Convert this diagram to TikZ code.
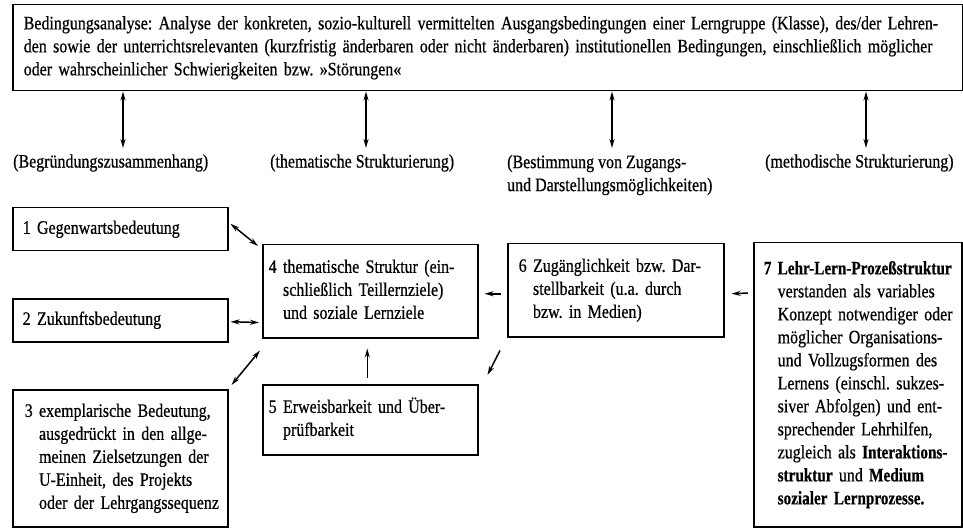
\documentclass[tikz,border=0pt]{standalone}
\usepackage{fontspec}
\setmainfont{Liberation Serif}[FakeStretch=0.84,FakeBold=0.6,BoldFeatures={FakeStretch=0.8,FakeBold=0.6}]
\usetikzlibrary{arrows.meta}
\frenchspacing
\begin{document}
\begin{tikzpicture}[x=1pt,y=-1pt,
  every node/.style={font=\fontsize{19pt}{23pt}\selectfont},
  bx/.style={draw, line width=1.5pt, anchor=north west, align=left, inner ysep=0pt},
  lab/.style={anchor=west, align=left, inner sep=0pt},
  dbl/.style={line width=1.5pt, {Stealth[length=9pt,width=5pt]}-{Stealth[length=9pt,width=5pt]}},
  one/.style={line width=1.5pt, -{Stealth[length=9pt,width=5pt]}}]
\useasboundingbox (0,0) rectangle (963,529);
% top box
\node[bx, minimum height=86pt, text width=928pt, inner xsep=11pt] (top) at (12,4)
 {\begin{tabular}{@{}l@{}}
 Bedingungsanalyse: Analyse der konkreten, sozio-kulturell vermittelten Ausgangsbedingungen einer Lerngruppe (Klasse), des/der Lehren-\\
 den sowie der unterrichtsrelevanten (kurzfristig änderbaren oder nicht änderbaren) institutionellen Bedingungen, einschließlich möglicher\\
 oder wahrscheinlicher Schwierigkeiten bzw. »Störungen«
 \end{tabular}};
% labels
\node[lab] (l1) at (13,163) {(Begründungszusammenhang)};
\node[lab] (l2) at (270,163) {(thematische Strukturierung)};
\node[lab] (l3) at (507,175) {\begin{tabular}{@{}l@{}}(Bestimmung von Zugangs-\\und Darstellungsmöglichkeiten)\end{tabular}};
\node[lab] (l4) at (765,163) {(methodische Strukturierung)};
\coordinate (e1) at (123,148);
\coordinate (e2) at (366,148);
\coordinate (e3) at (612,148);
\coordinate (e4) at (866,148);
\foreach \e in {e1,e2,e3,e4} \draw[dbl] (top.south -| \e) -- (\e);
% boxes
\node[bx, minimum height=43pt, text width=195pt, inner xsep=10pt] (b1) at (12,207) {1 Gegenwartsbedeutung};
\node[bx, minimum height=43pt, text width=195pt, inner xsep=10pt] (b2) at (12,298) {2 Zukunftsbedeutung};
\node[bx, minimum height=137pt, text width=191pt, inner xsep=12pt] (b3) at (12,389)
 {\begin{tabular}{@{}l@{\ }l@{}}3 & exemplarische Bedeutung,\\ & ausgedrückt in den allge-\\ & meinen Zielsetzungen der\\ & U-Einheit, des Projekts\\ & oder der Lehrgangssequenz\end{tabular}};
\node[bx, minimum height=93pt, text width=203pt, inner xsep=6pt] (b4) at (262,244)
 {\begin{tabular}{@{}l@{\ }l@{}}4 & thematische Struktur (ein-\\ & schließlich Teillernziele)\\ & und soziale Lernziele\end{tabular}};
\node[bx, minimum height=70pt, text width=203pt, inner xsep=6pt] (b5) at (262,384)
 {\begin{tabular}{@{}l@{\ }l@{}}5 & Erweisbarkeit und Über-\\ & prüfbarkeit\end{tabular}};
\node[bx, minimum height=93pt, text width=194pt, inner xsep=11pt] (b6) at (507,243)
 {\begin{tabular}{@{}l@{\ }l@{}}6 & Zugänglichkeit bzw. Dar-\\ & stellbarkeit (u.a. durch\\ & bzw. in Medien)\end{tabular}};
\node[bx, minimum height=284pt, text width=188pt, inner xsep=10pt] (b7) at (753,242)
 {\begin{tabular}{@{}l@{\ }l@{}}\textbf{7} & \textbf{Lehr-Lern-Prozeßstruktur}\\
 & verstanden als variables\\
 & Konzept notwendiger oder\\
 & möglicher Organisations-\\
 & und Vollzugsformen des\\
 & Lernens (einschl. sukzes-\\
 & siver Abfolgen) und ent-\\
 & sprechender Lehrhilfen,\\
 & zugleich als \textbf{Interaktions-}\\
 & \textbf{struktur} und \textbf{Medium}\\
 & \textbf{sozialer Lernprozesse.}\end{tabular}};
% connectors
\draw[dbl] ([shift={(2,-5.5)}]b1.east) -- ([shift={(-4,2)}]b4.north west);
\draw[dbl] ([shift={(2,1.5)}]b2.east) -- ([shift={(-3,-16)}]b4.south west);
\draw[dbl] ([shift={(3,-4)}]b3.north east) -- ([shift={(-2,12)}]b4.south west);
\draw[one] ([shift={(-3,-6)}]b5.north) -- ([shift={(-3,10)}]b4.south);
\draw[one] ([shift={(-6,3.5)}]b6.west) -- ([shift={(6,2.5)}]b4.east);
\draw[one] ([shift={(-5,51)}]b7.north west) -- ([shift={(7,3.5)}]b6.east);
\draw[one] ([shift={(-7,13)}]b6.south west) -- ([shift={(9,-9)}]b5.north east);
\end{tikzpicture}
\end{document}
